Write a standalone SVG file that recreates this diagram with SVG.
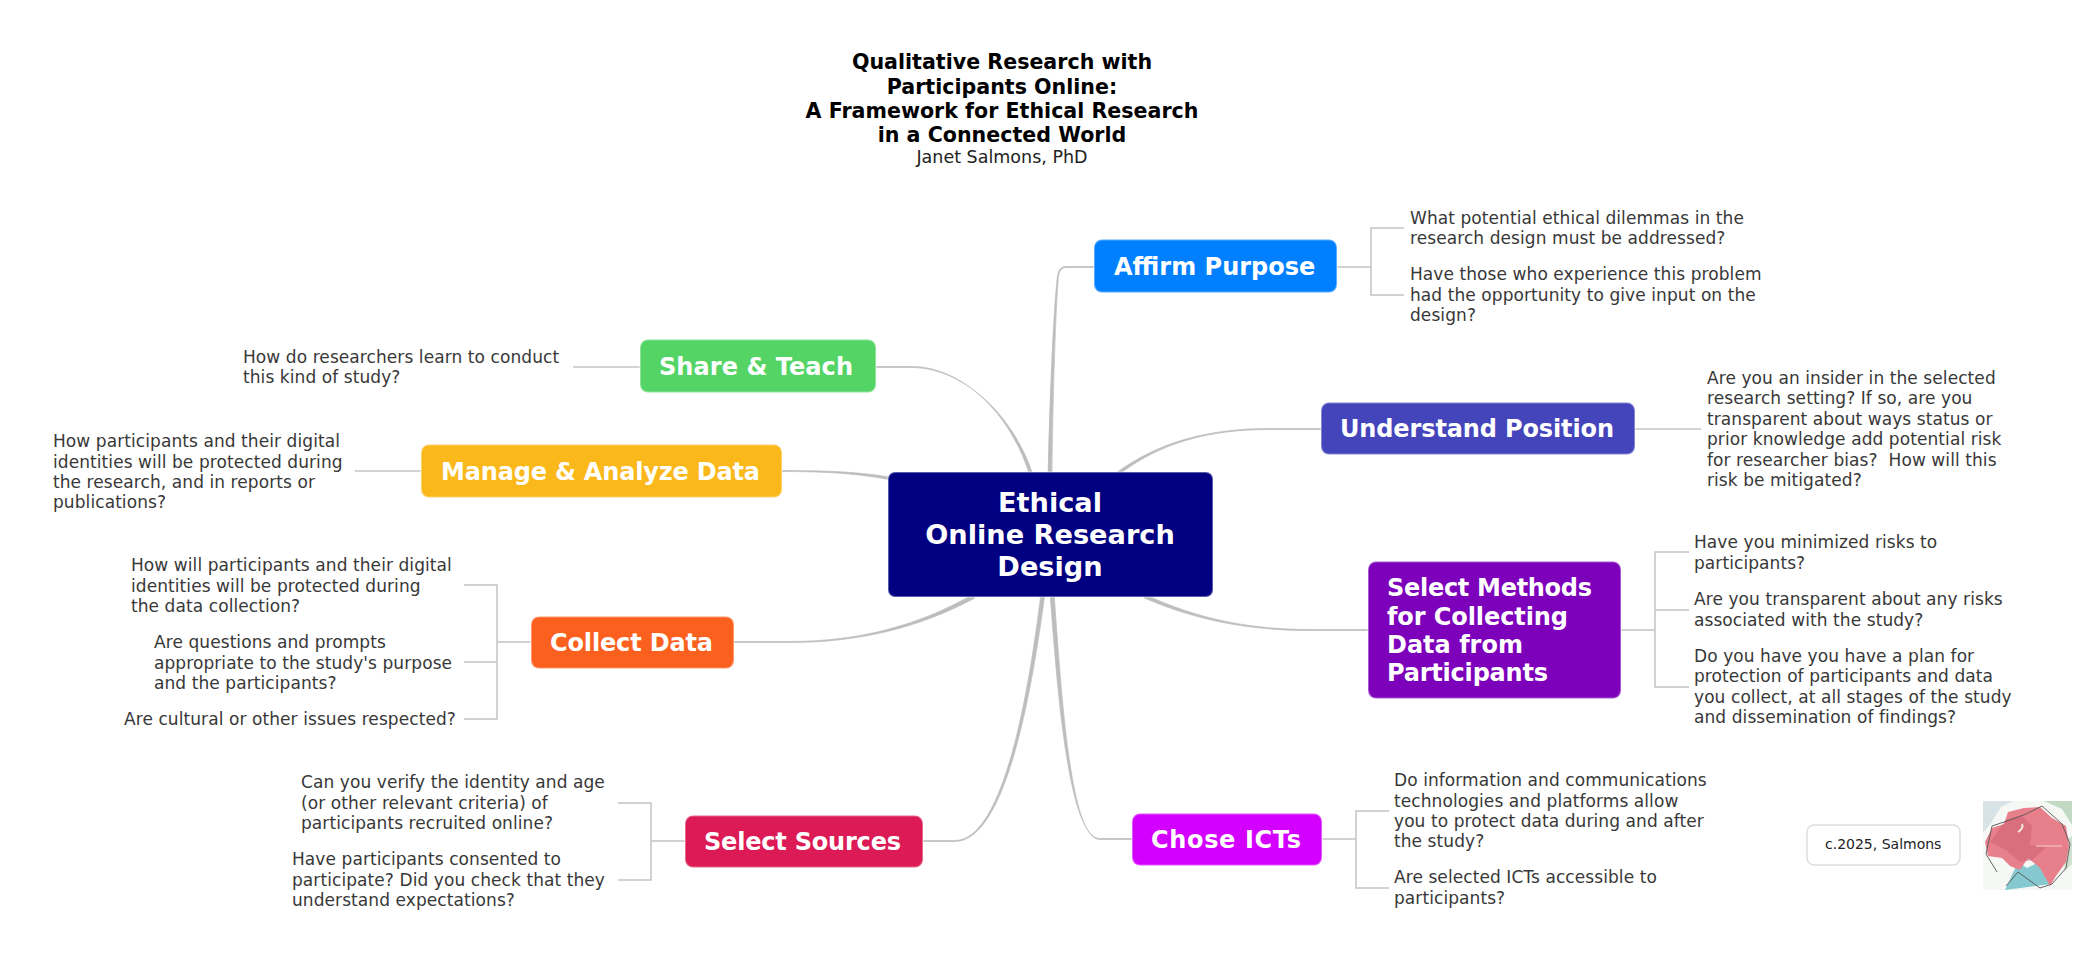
<svg xmlns="http://www.w3.org/2000/svg" width="2073" height="962" viewBox="0 0 2073 962">
<style>
text{font-family:"DejaVu Sans",Verdana,sans-serif}
.b{font-size:17px;letter-spacing:.08px;fill:#383838;transform:translateY(1px)}
.n{font-size:24px;font-weight:700;fill:#fff}
.c{font-size:27.2px;font-weight:700;fill:#fff;text-anchor:middle}
.t{font-size:20.6px;font-weight:700;fill:#000;text-anchor:middle}
.r{stroke-width:2;stroke-opacity:.35;stroke:#fff}
.l{fill:none;stroke:#c4c4c4;stroke-width:1.5}
.m{fill:#bdbdbd;stroke:#bdbdbd;stroke-width:.7}
</style>
<rect width="2073" height="962" fill="#fff"/>
<g id="connectors" transform="translate(0 1)">
<path class="m" d="M1048 480C1049.500 400 1054 300 1057.500 275Q1058.500 265.500 1066 265.500H1094V266.500H1066Q1059.500 266.500 1058.500 275C1056 300 1052.500 400 1052 480Z"/>
<path class="m" d="M875 365.500H912C960 365.500 1010 410 1029.500 474L1033 474C1012 410 960 366.500 912 366.500H875Z"/>
<path class="m" d="M781 469.500C830 469.500 860 471 892 476.500V479C860 473 830 470.500 781 470.500Z"/>
<path class="m" d="M1321 427.500H1270C1210 427.500 1160 440 1116 472L1118.500 474C1161 441 1210 428.500 1270 428.500H1321Z"/>
<path class="m" d="M1368 628.500H1310C1250 628.500 1198 618 1146 594L1144 597C1198 620 1250 629.500 1310 629.500H1368Z"/>
<path class="m" d="M733 640.500H790C860 640.500 919 624 972 594L975 597C921 626 860 641.500 790 641.500H733Z"/>
<path class="m" d="M1041 592C1029 690 1004 839.500 955 839.500H922V840.500H955C1006 840.500 1032 690 1045 592Z"/>
<path class="m" d="M1050 592C1058 700 1069.500 837.500 1100 837.500H1132V838.500H1100C1070.500 838.500 1062 700 1054 592Z"/>
<path class="l" d="M1337 266H1371M1404 227H1371V294H1404"/>
<path class="l" d="M1635 428H1701"/>
<path class="l" d="M1621 629H1655M1689 551H1655V686H1689M1655 609H1689"/>
<path class="l" d="M1322 838H1356M1389 810H1356V887H1389"/>
<path class="l" d="M640 366H573"/>
<path class="l" d="M421 470H355"/>
<path class="l" d="M531 641H497M464 584H497V718H464M497 661H464"/>
<path class="l" d="M685 840H651M618 802H651V879H618"/>
</g>
<g id="title">
<text class="t" x="1002" y="68.500">Qualitative Research with</text>
<text class="t" x="1002" y="93.500">Participants Online:</text>
<text class="t" x="1002" y="117.500">A Framework for Ethical Research</text>
<text class="t" x="1002" y="141.500">in a Connected World</text>
<text x="1002" y="163" style="font-size:17.500px;fill:#222;text-anchor:middle">Janet Salmons, PhD</text>
</g>
<g id="center"><rect class="r" x="888" y="472" width="325" height="125" rx="7" fill="#000080"/>
<text class="c" x="1050" y="512">Ethical</text><text class="c" x="1050" y="544">Online Research</text><text class="c" x="1050" y="576">Design</text></g>
<g id="affirm"><rect class="r" x="1094" y="239.500" width="243" height="53" rx="8" fill="#0080ff"/><text class="n" x="1114" y="275">Affirm Purpose</text></g>
<g id="affirm-1"><text class="b" x="1410" y="223">What potential ethical dilemmas in the</text><text class="b" x="1410" y="243">research design must be addressed?</text></g>
<g id="affirm-2"><text class="b" x="1410" y="279">Have those who experience this problem</text><text class="b" x="1410" y="300">had the opportunity to give input on the</text><text class="b" x="1410" y="320">design?</text></g>
<g id="understand"><rect class="r" x="1321" y="402.500" width="314" height="52" rx="8" fill="#4444bb"/><text class="n" x="1340" y="437" textLength="274">Understand Position</text></g>
<g id="understand-1"><text class="b" x="1707" y="383">Are you an insider in the selected</text><text class="b" x="1707" y="403">research setting? If so, are you</text><text class="b" x="1707" y="424">transparent about ways status or</text><text class="b" x="1707" y="444">prior knowledge add potential risk</text><text class="b" x="1707" y="465" xml:space="preserve">for researcher bias?  How will this</text><text class="b" x="1707" y="485">risk be mitigated?</text></g>
<g id="methods"><rect class="r" x="1368" y="561.500" width="253" height="137" rx="8" fill="#7d00bb"/><text class="n" x="1387" y="596" textLength="205">Select Methods</text><text class="n" x="1387" y="625" textLength="181">for Collecting</text><text class="n" x="1387" y="653">Data from</text><text class="n" x="1387" y="681" textLength="161">Participants</text></g>
<g id="methods-1"><text class="b" x="1694" y="547">Have you minimized risks to</text><text class="b" x="1694" y="568">participants?</text></g>
<g id="methods-2"><text class="b" x="1694" y="604">Are you transparent about any risks</text><text class="b" x="1694" y="625">associated with the study?</text></g>
<g id="methods-3"><text class="b" x="1694" y="661">Do you have you have a plan for</text><text class="b" x="1694" y="681">protection of participants and data</text><text class="b" x="1694" y="702">you collect, at all stages of the study</text><text class="b" x="1694" y="722">and dissemination of findings?</text></g>
<g id="icts"><rect class="r" x="1132" y="813.500" width="190" height="52" rx="8" fill="#d400ff"/><text class="n" x="1151" y="848" textLength="150">Chose ICTs</text></g>
<g id="icts-1"><text class="b" x="1394" y="785">Do information and communications</text><text class="b" x="1394" y="806">technologies and platforms allow</text><text class="b" x="1394" y="826">you to protect data during and after</text><text class="b" x="1394" y="846">the study?</text></g>
<g id="icts-2"><text class="b" x="1394" y="882">Are selected ICTs accessible to</text><text class="b" x="1394" y="903">participants?</text></g>
<g id="share"><rect class="r" x="640" y="339.500" width="236" height="53" rx="8" fill="#55d466"/><text class="n" x="659" y="375" textLength="194">Share &amp; Teach</text></g>
<g id="share-1"><text class="b" x="243" y="362">How do researchers learn to conduct</text><text class="b" x="243" y="382">this kind of study?</text></g>
<g id="manage"><rect class="r" x="421" y="444.500" width="361" height="53" rx="8" fill="#fbb81b"/><text class="n" x="441" y="480" textLength="319">Manage &amp; Analyze Data</text></g>
<g id="manage-1"><text class="b" x="53" y="446">How participants and their digital</text><text class="b" x="53" y="467">identities will be protected during</text><text class="b" x="53" y="487">the research, and in reports or</text><text class="b" x="53" y="507">publications?</text></g>
<g id="collect"><rect class="r" x="531" y="616.500" width="203" height="52" rx="8" fill="#fb601f"/><text class="n" x="550" y="651" textLength="163">Collect Data</text></g>
<g id="collect-1"><text class="b" x="131" y="570">How will participants and their digital</text><text class="b" x="131" y="591">identities will be protected during</text><text class="b" x="131" y="611">the data collection?</text></g>
<g id="collect-2"><text class="b" x="154" y="647">Are questions and prompts</text><text class="b" x="154" y="668">appropriate to the study's purpose</text><text class="b" x="154" y="688">and the participants?</text></g>
<g id="collect-3"><text class="b" x="124" y="724">Are cultural or other issues respected?</text></g>
<g id="sources"><rect class="r" x="685" y="815.500" width="238" height="52" rx="8" fill="#dc1a55"/><text class="n" x="704" y="850" textLength="197">Select Sources</text></g>
<g id="sources-1"><text class="b" x="301" y="787">Can you verify the identity and age</text><text class="b" x="301" y="808">(or other relevant criteria) of</text><text class="b" x="301" y="828">participants recruited online?</text></g>
<g id="sources-2"><text class="b" x="292" y="864">Have participants consented to</text><text class="b" x="292" y="885">participate? Did you check that they</text><text class="b" x="292" y="905">understand expectations?</text></g>
<g id="copyright"><rect x="1807" y="825" width="153" height="40" rx="7" fill="#fff" stroke="#ddd" stroke-width="1.500"/><text x="1825" y="849" style="font-size:14px;fill:#222">c.2025, Salmons</text></g>
<g id="flower">
<rect x="1983" y="801" width="89" height="89" fill="#f6f8f5"/>
<path d="M1983 801h30l-12 6-10 16-8 10z" fill="#d7e3e6"/>
<path d="M2044 801h28v24l-10-16z" fill="#c2d9c4"/>
<path d="M2066 840l6-4v28l-8 8z" fill="#cfe0d0"/>
<path d="M2005 890l13-28 9 6 12-6 12 22z" fill="#86c8cf"/>
<path d="M2008 812L2024 808 2040 807 2052 818 2066 826 2069 846 2066 862 2056 876 2050 886 2040 868 2028 858 2020 870 2010 866 2002 858 1988 856 1985 842 1992 828 2004 824z" fill="#e8808c"/>
<path d="M2006 820L2022 816 2032 826 2030 845 2048 846 2032 860 2020 862 2006 850 1990 842z" fill="#cf6372" opacity=".6"/>
<path d="M2036 846L2062 846" stroke="#f2b4b4" stroke-width="1.500"/>
<path d="M2018 832Q2024 828 2022 824" stroke="#f3e9e0" stroke-width="2" fill="none"/>
<path d="M1997 872L1986 854 1992 826 2004 822 2026 814 2042 806 2062 824 2070 844 2066 868 2052 884 2040 888 2018 872 2006 886" fill="none" stroke="#555" stroke-width=".9"/>
</g>
</svg>
